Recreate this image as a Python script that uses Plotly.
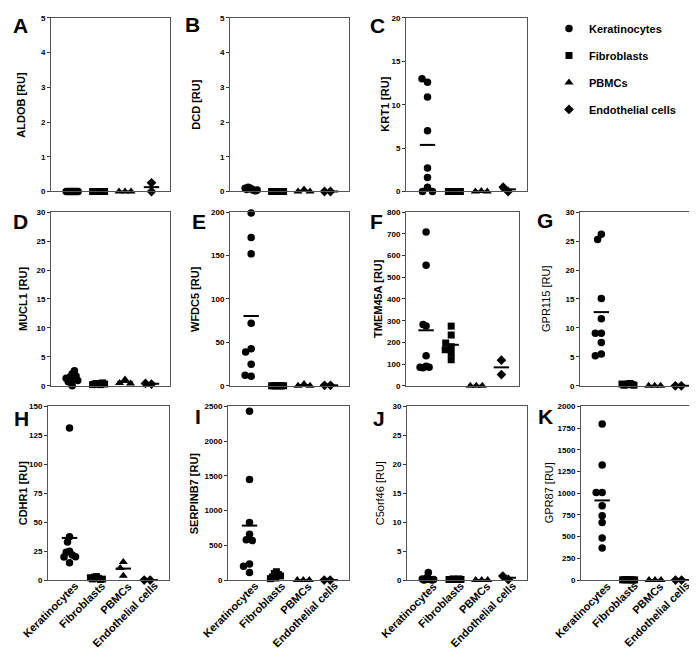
import numpy as np
import plotly.graph_objects as go

# ---------------- data ----------------
categories = ["Keratinocytes", "Fibroblasts", "PBMCs", "Endothelial cells"]
panel_letters = ["A", "B", "C", "D", "E", "F", "G", "H", "I", "J", "K"]
genes = ["ALDOB", "DCD", "KRT1", "MUCL1", "WFDC5", "TMEM45A", "GPR115",
         "CDHR1", "SERPINB7", "C5orf46", "GPR87"]
y_max = [5, 5, 20, 30, 200, 800, 30, 150, 2500, 30, 2000]
y_dtick = [1, 1, 5, 5, 50, 100, 5, 25, 500, 5, 250]

# values per group: [Keratinocytes, Fibroblasts, PBMCs, Endothelial cells]
aldob = [[0, 0, 0, 0, 0, 0, 0, 0, 0], [0, 0, 0, 0, 0, 0, 0], [0, 0, 0], [0.0, 0.25]]
dcd = [[0.08, 0.1, 0.05, 0.12, 0.03, 0.06, 0.02, 0.09, 0.04], [0, 0, 0, 0, 0, 0, 0],
       [0.06, 0.0, 0.0], [0.0, 0.0]]
krt1 = [[12.6, 13.0, 10.9, 7.0, 2.7, 1.6, 0.5, 0.0, 0.0], [0, 0, 0, 0, 0, 0, 0],
        [0.05, 0.0, 0.0], [0.0, 0.5]]
mucl1 = [[2.1, 1.5, 1.1, 2.6, 1.7, 0.0, 0.7, 1.3, 0.9], [0.3, 0.4, 0.2, 0.3, 0.5, 0.2, 0.3],
         [1.1, 0.5, 0.4], [0.3, 0.4]]
wfdc5 = [[199, 171, 152, 72, 42.7, 38.9, 24.8, 11, 12.2], [0, 0, 0, 0, 0, 0, 0],
         [2, 0, 0], [0.5, 0.5]]
tmem45a = [[709, 555, 275, 282, 138, 90, 83, 85, 85], [180, 234, 275, 197, 166, 150, 120],
           [0, 0, 0], [118, 52]]
gpr115 = [[26.2, 25.3, 15.1, 11.6, 9.1, 9.1, 7.5, 5.5, 5.2], [0.3, 0.2, 0.4, 0.1, 0.2, 0.3, 0.1],
          [0, 0, 0], [0, 0]]
cdhr1 = [[131.5, 37.5, 33, 25, 24, 21.6, 19.9, 20.2, 15], [3, 2.5, 1.5, 1, 0.5, 2, 0.8],
         [15.6, 10.5, 3.7], [0, 0]]
serpinb7 = [[2430, 1450, 830, 660, 580, 570, 230, 200, 110], [120, 95, 80, 60, 45, 30, 20],
            [0, 0, 0], [0, 0]]
c5orf46 = [[1.3, 0.5, 0.2, 0.1, 0.1, 0.0, 0.0, 0.1, 0.2], [0.1, 0.2, 0.1, 0.1, 0.2, 0.1, 0.1],
           [0, 0, 0], [0.1, 0.7]]
gpr87 = [[1799, 1326, 1008, 1008, 856, 742, 663, 485, 371], [5, 3, 2, 4, 1, 3, 2],
         [0, 0, 0], [0, 0]]
panel_values = [aldob, dcd, krt1, mucl1, wfdc5, tmem45a, gpr115, cdhr1, serpinb7, c5orf46, gpr87]

# ---------------- layout / style ----------------
W, H = 697, 654
FONT = "Liberation Sans, Arial, sans-serif"
symbols = ["circle", "square", "triangle-up", "diamond"]
msizes = [7.5, 7, 8, 7.5]
XR = [-0.8, 3.7]

rows_px = [(6, 182), (203, 379), (400, 576)]
# (row, x0, x1) for each panel in pixels
panel_box = [(0, 43, 162), (0, 222, 341), (0, 398, 519),
             (1, 43, 162), (1, 222, 341), (1, 398, 511), (1, 572, 692),
             (2, 40, 161), (2, 220, 341), (2, 399, 519), (2, 573, 692)]
letter_pos = [(12, 14), (184, 13), (369, 14), (12, 212), (191, 212), (368, 212),
              (537, 211), (13, 412), (190, 410), (371, 412), (537, 410)]
title_x = [13, 188, 377, 15, 187, 370, 538, 15, 186, 372, 541]
title_bold = [True, True, True, True, True, True, False, True, True, False, False]


def swarm(vals, px_y, px_x, diam=6.5, maxhalf=6.0):
    ys = np.asarray(vals, dtype=float) * px_y
    cands = [0.0]
    for k in range(1, 121):
        cands += [-0.5 * k, 0.5 * k]
    placed = []
    offs = np.zeros(len(ys))
    for i, y in enumerate(ys):
        pick = cands[-1]
        for c in cands:
            if all((c - px) ** 2 + (y - py) ** 2 >= diam ** 2 for px, py in placed):
                pick = c
                break
        placed.append((pick, y))
        offs[i] = pick
    m = np.abs(offs).max() if len(offs) else 0
    if m > maxhalf:
        offs = offs * maxhalf / m
    return offs / px_x


fig = go.Figure()
layout = dict(width=W, height=H, margin=dict(l=0, r=0, t=0, b=0),
              paper_bgcolor="white", plot_bgcolor="white",
              font=dict(family=FONT, color="black"), annotations=[])

for p in range(11):
    r, x0, x1 = panel_box[p]
    y0, y1 = rows_px[r]
    ax = "" if p == 0 else str(p + 1)
    xa, ya = "x" + ax, "y" + ax
    px_y = (y1 - y0) / y_max[p]
    px_x = (x1 - x0) / (XR[1] - XR[0])
    for g in range(4):
        vals = panel_values[p][g]
        offs = swarm(vals, px_y, px_x)
        fig.add_trace(go.Scatter(
            x=g + offs, y=vals, mode="markers", xaxis=xa, yaxis=ya,
            name=categories[g], legendgroup=categories[g], showlegend=(p == 0),
            marker=dict(symbol=symbols[g], size=msizes[g], color="black", line=dict(width=0)),
            cliponaxis=False, hoverinfo="y"))
    means = [float(np.mean(v)) for v in panel_values[p]]
    fig.add_trace(go.Scatter(
        x=list(range(4)), y=means, mode="markers", xaxis=xa, yaxis=ya, showlegend=False,
        marker=dict(symbol="line-ew", size=11, color="black", line=dict(width=2, color="black")),
        cliponaxis=False, hoverinfo="y"))

    xdict = dict(domain=[x0 / W, x1 / W], range=XR, anchor=ya, showgrid=False, zeroline=False,
                 showline=True, mirror=True, linecolor="#555", linewidth=1, ticks="",
                 showticklabels=False)
    ydict = dict(domain=[1 - y1 / H, 1 - y0 / H], range=[0, y_max[p]], dtick=y_dtick[p],
                 anchor=xa, showgrid=False, zeroline=False, showline=True, mirror=True,
                 linecolor="#555", linewidth=1, ticks="outside", ticklen=3, tickwidth=1,
                 tickcolor="#333", tickfont=dict(size=8, weight="bold", family=FONT))
    layout["xaxis" + ax] = xdict
    layout["yaxis" + ax] = ydict

    if r == 2:
        for g, cat in enumerate(categories):
            layout["annotations"].append(dict(
                text=cat, x=g, y=1 - y1 / H, xref=xa, yref="paper",
                xanchor="right", yanchor="top", xshift=12, yshift=2,
                textangle=-45, showarrow=False, borderpad=0,
                font=dict(size=11, weight="bold", family=FONT)))

    lx, ly = letter_pos[p]
    layout["annotations"].append(dict(
        text=panel_letters[p], x=lx / W, y=1 - ly / H, xref="paper", yref="paper",
        xanchor="center", yanchor="middle", showarrow=False,
        font=dict(size=21, weight="bold", family=FONT)))
    layout["annotations"].append(dict(
        text=genes[p] + " [RU]", x=title_x[p] / W, y=1 - (y0 + y1) / 2 / H,
        xref="paper", yref="paper", xanchor="center", yanchor="middle",
        textangle=-90, showarrow=False,
        font=dict(size=11, weight="bold" if title_bold[p] else "normal", family=FONT)))

layout["legend"] = dict(x=541 / W, y=1 - 2 / H, xanchor="left", yanchor="top",
                        font=dict(size=11, weight="bold", family=FONT),
                        tracegroupgap=8, bgcolor="rgba(0,0,0,0)", itemsizing="trace")
fig.update_layout(**layout)
fig.write_html("out.html")
